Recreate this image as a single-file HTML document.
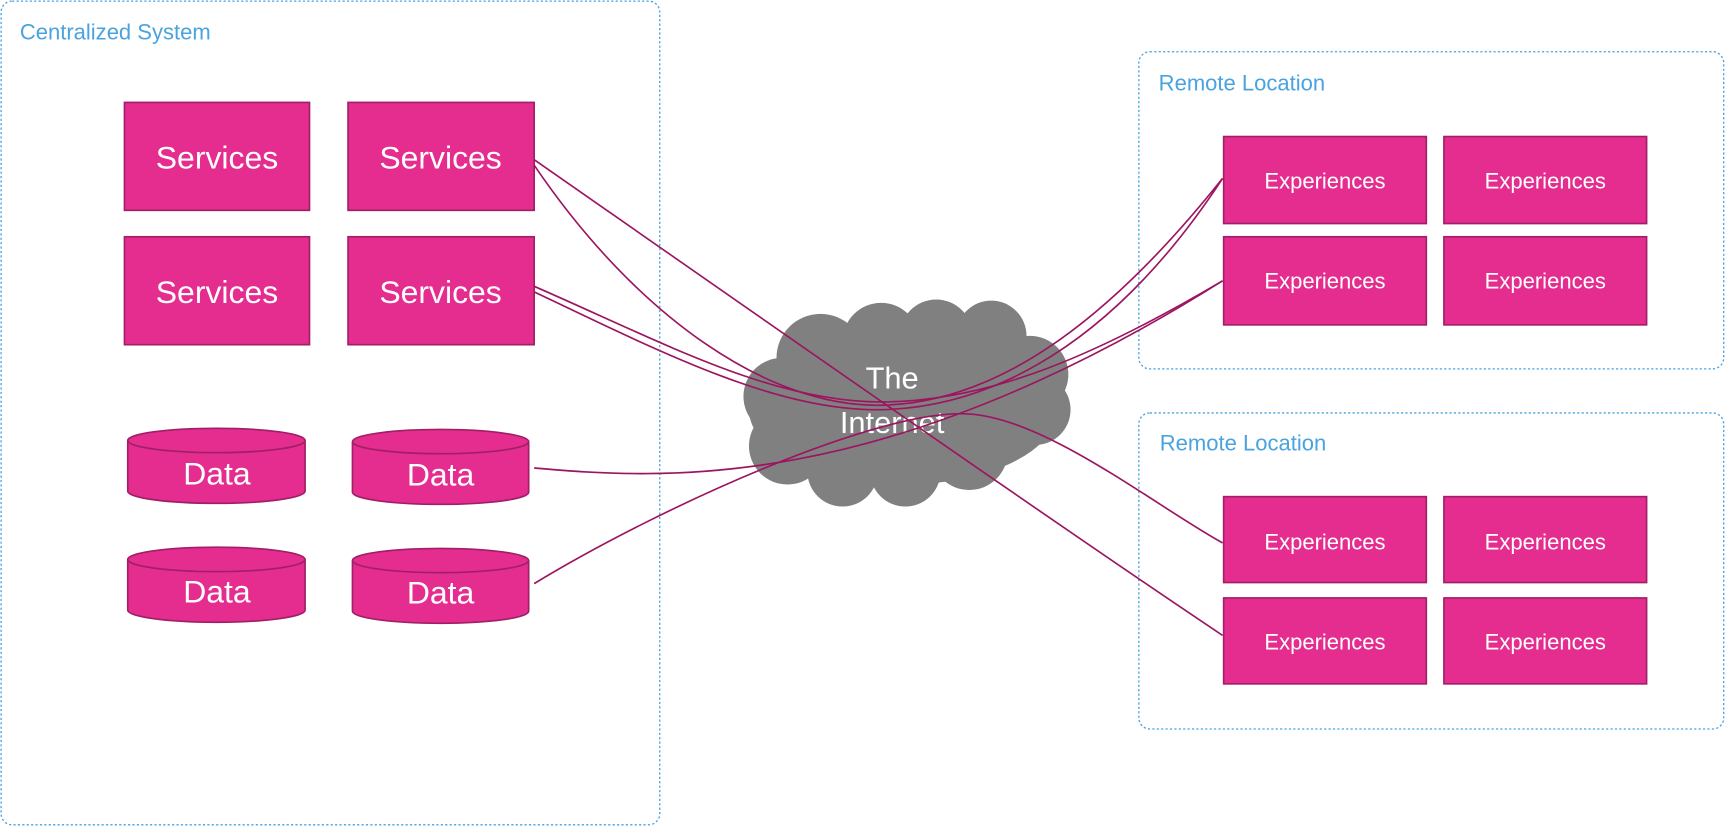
<!DOCTYPE html>
<html><head><meta charset="utf-8"><style>
html,body{margin:0;padding:0;background:#fff;}
svg{display:block;}
text{font-family:"Liberation Sans",sans-serif;}
</style></head><body>
<svg width="1727" height="827" viewBox="0 0 1568 751" preserveAspectRatio="none" xmlns="http://www.w3.org/2000/svg">
<g fill="none" stroke="#4aa3df" stroke-width="1.2" stroke-dasharray="2,2">
<rect x="1" y="1" width="598" height="748" rx="10"/>
<rect x="1034" y="47" width="531" height="288" rx="10"/>
<rect x="1034" y="375" width="531" height="287" rx="10"/>
</g>
<g fill="#4aa3df" font-size="20">
<text x="18" y="36">Centralized System</text>
<text x="1052" y="82">Remote Location</text>
<text x="1053" y="409">Remote Location</text>
</g>
<g fill="#e42d8f" stroke="#a11f66" stroke-width="1.5">
<rect x="113" y="93" width="168" height="98"/>
<rect x="316" y="93" width="169" height="98"/>
<rect x="113" y="215" width="168" height="98"/>
<rect x="316" y="215" width="169" height="98"/>
<rect x="1111" y="124" width="184" height="79"/>
<rect x="1311" y="124" width="184" height="79"/>
<rect x="1111" y="215" width="184" height="80"/>
<rect x="1311" y="215" width="184" height="80"/>
<rect x="1111" y="451" width="184" height="78"/>
<rect x="1311" y="451" width="184" height="78"/>
<rect x="1111" y="543" width="184" height="78"/>
<rect x="1311" y="543" width="184" height="78"/>
<path d="M116,400 v46 a80,11 0 0 0 161,0 v-46 a80,11 0 0 0 -161,0 a80,11 0 0 0 161,0"/>
<path d="M320,401 v46 a80,11 0 0 0 160,0 v-46 a80,11 0 0 0 -160,0 a80,11 0 0 0 160,0"/>
<path d="M116,508 v46 a80,11 0 0 0 161,0 v-46 a80,11 0 0 0 -161,0 a80,11 0 0 0 161,0"/>
<path d="M320,509 v46 a80,11 0 0 0 160,0 v-46 a80,11 0 0 0 -160,0 a80,11 0 0 0 160,0"/>
</g>
<g fill="#fff" font-size="29" text-anchor="middle">
<text x="197" y="153">Services</text>
<text x="400" y="153">Services</text>
<text x="197" y="275">Services</text>
<text x="400" y="275">Services</text>
<text x="197" y="440">Data</text>
<text x="400" y="441">Data</text>
<text x="197" y="547">Data</text>
<text x="400" y="548">Data</text>
</g>
<g fill="#fff" font-size="20" text-anchor="middle">
<text x="1203" y="171">Experiences</text>
<text x="1403" y="171">Experiences</text>
<text x="1203" y="262">Experiences</text>
<text x="1403" y="262">Experiences</text>
<text x="1203" y="499">Experiences</text>
<text x="1403" y="499">Experiences</text>
<text x="1203" y="590">Experiences</text>
<text x="1403" y="590">Experiences</text>
</g>
<g fill="#808080">
<ellipse cx="820" cy="372" rx="140" ry="68"/>
<circle cx="745" cy="325" r="40"/>
<circle cx="800" cy="310" r="35"/>
<circle cx="850" cy="305" r="33"/>
<circle cx="900" cy="305" r="32"/>
<circle cx="935" cy="340" r="35"/>
<circle cx="940" cy="372" r="32"/>
<circle cx="710" cy="360" r="35"/>
<circle cx="715" cy="405" r="35"/>
<circle cx="765" cy="428" r="32"/>
<circle cx="822" cy="428" r="32"/>
<circle cx="880" cy="410" r="35"/>
</g>
<g fill="#fff" font-size="28" text-anchor="middle">
<text x="810" y="353">The</text>
<text x="810" y="393">Internet</text>
</g>
<g fill="none" stroke="#9b1560" stroke-width="1.5">
<path d="M485,145 C650,260 950,470 1110,577"/>
<path d="M485,150 C580,290 700,370 800,368 C900,366 1000,300 1110,162"/>
<path d="M485,260 C600,310 700,365 800,365 C900,365 1000,320 1110,255"/>
<path d="M485,265 C600,320 700,370 790,372 C880,374 1000,330 1110,162"/>
<path d="M485,425 C600,435 800,450 1110,255"/>
<path d="M485,530 C600,460 800,370 880,376 C950,380 1050,460 1110,493"/>
</g>
</svg>
</body></html>
